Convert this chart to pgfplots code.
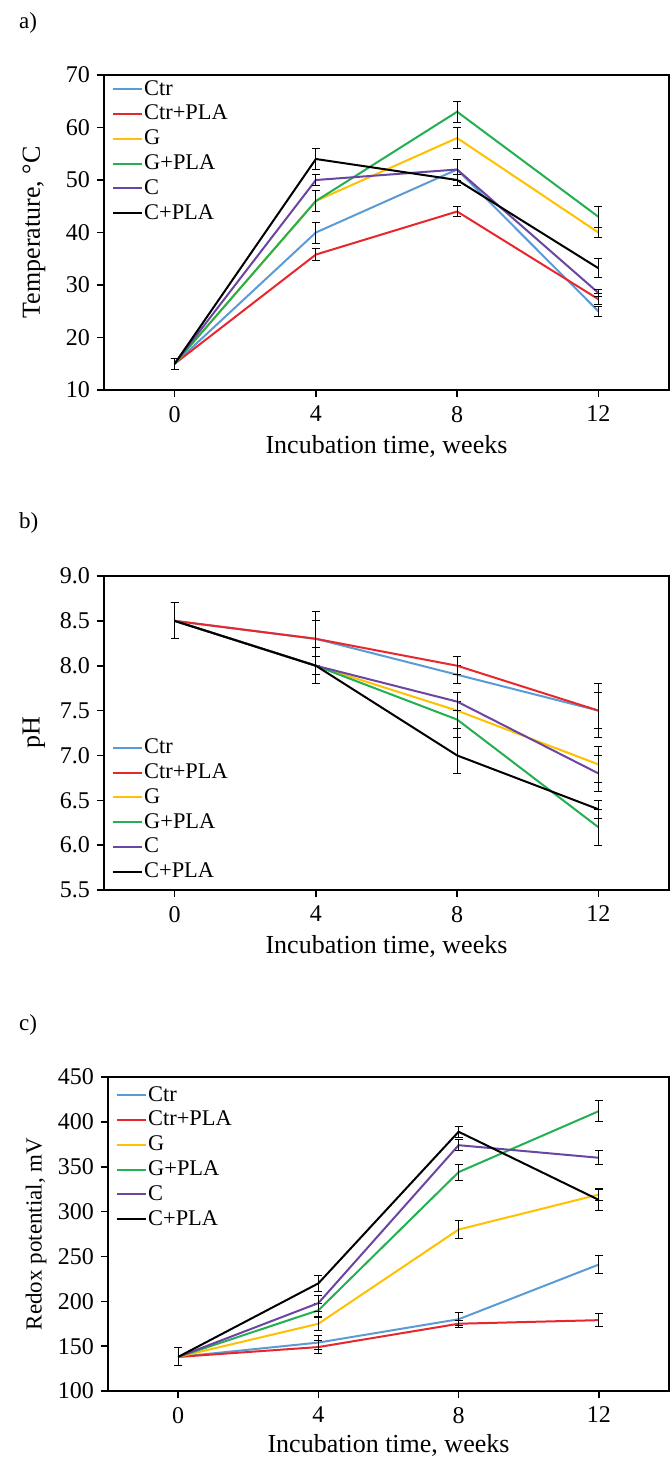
\documentclass[border=0pt]{standalone}
\usepackage{fontspec}
\setmainfont{Liberation Serif}
\usepackage{pgfplots}
\pgfplotsset{compat=1.18}
\definecolor{cCtr}{HTML}{5B9BD5}
\definecolor{cCtrP}{HTML}{E8272D}
\definecolor{cG}{HTML}{FFC000}
\definecolor{cGP}{HTML}{22B050}
\definecolor{cC}{HTML}{6A45A2}
\pgfplotsset{
  common/.style={
    scale only axis,
    anchor=south west,
    xmin=-2, xmax=14,
    xtick={0,4,8,12},
    axis line style={line width=0.8pt},
    tick style={line width=0.8pt, black},
    tick align=outside,
    major tick length=3.5pt,
    xtick pos=bottom, ytick pos=left,
    /pgf/number format/assume math mode=true,
    ticklabel style={font=\fontsize{12}{14}\selectfont},
    xticklabel style={yshift=-1pt},
    xlabel style={font=\fontsize{13}{15}\selectfont, at={(axis description cs:0.5,0)}, anchor=center, yshift=-28pt},
    ylabel style={font=\fontsize{13}{15}\selectfont, at={([xshift=-35pt]axis description cs:0,0.5)}, anchor=center},
    xlabel={Incubation time, weeks},
    legend cell align=left,
    legend image code/.code={\draw[#1, line width=1pt] (0pt,0pt) -- (14.5pt,0pt);},
    legend style={font=\fontsize{11.2}{12.5}\selectfont, draw=none, fill=none, inner sep=0pt, outer sep=0pt,
      nodes={inner sep=0.6pt}, row sep=2.3pt},
    every axis plot/.append style={line width=1pt, mark=none,
      error bars/y dir=both, error bars/y explicit,
      error bars/error bar style={black, line width=0.5pt},
      error bars/error mark options={rotate=90, mark size=2pt, black, line width=0.5pt}},
  }
}
\begin{document}
\begin{tikzpicture}
\useasboundingbox (0,0) rectangle (335pt,-728.5pt);
\node[anchor=west, font=\fontsize{11.5}{13}\selectfont] at (6pt,-11.5pt) {a)};
\node[anchor=west, font=\fontsize{11.5}{13}\selectfont] at (6pt,-261.5pt) {b)};
\node[anchor=west, font=\fontsize{11.5}{13}\selectfont] at (6pt,-512.5pt) {c)};
% ---------- a) temperature
\begin{axis}[common, at={(52pt,-195pt)}, width=282.5pt, height=157.5pt,
  ymin=10, ymax=70, ytick={10,20,...,70},
  ylabel={Temperature, °C},
  legend style={at={(0,1)}, anchor=north west, xshift=4pt, yshift=-2pt}]
\addplot[cCtr] coordinates {(0,15)+-(0,1) (4,40)+-(0,2) (8,52)+-(0,2) (12,25)+-(0,1)};
\addlegendentry{Ctr}
\addplot[cCtrP] coordinates {(0,15)+-(0,1) (4,35.8)+-(0,1.2) (8,44)+-(0,1) (12,27.3)+-(0,1)};
\addlegendentry{Ctr+PLA}
\addplot[cG] coordinates {(0,15)+-(0,1) (4,46)+-(0,2) (8,58)+-(0,2) (12,40)+-(0,1)};
\addlegendentry{G}
\addplot[cGP] coordinates {(0,15)+-(0,1) (4,46)+-(0,2) (8,63)+-(0,2) (12,43)+-(0,2)};
\addlegendentry{G+PLA}
\addplot[cC] coordinates {(0,15)+-(0,1) (4,50)+-(0,1) (8,52)+-(0,2) (12,28.5)+-(0,0.7)};
\addlegendentry{C}
\addplot[black] coordinates {(0,15)+-(0,1) (4,54)+-(0,2) (8,50)+-(0,1) (12,33.2)+-(0,1.8)};
\addlegendentry{C+PLA}
\end{axis}
% ---------- b) pH
\begin{axis}[common, at={(52pt,-445pt)}, width=282.5pt, height=157pt,
  ymin=5.5, ymax=9, ytick={5.5,6,...,9},
  yticklabel style={/pgf/number format/.cd, fixed, fixed zerofill, precision=1},
  ylabel={pH},
  legend style={at={(0,0)}, anchor=south west, xshift=4pt, yshift=4pt}]
\addplot[cCtr] coordinates {(0,8.5)+-(0,0.2) (4,8.3)+-(0,0.3) (8,7.9)+-(0,0.1) (12,7.5)+-(0,0.3)};
\addlegendentry{Ctr}
\addplot[cCtrP] coordinates {(0,8.5)+-(0,0.2) (4,8.3)+-(0,0.2) (8,8.0)+-(0,0.1) (12,7.5)+-(0,0.2)};
\addlegendentry{Ctr+PLA}
\addplot[cG] coordinates {(0,8.5)+-(0,0.2) (4,8.0)+-(0,0.1) (8,7.5)+-(0,0.2) (12,6.9)+-(0,0.2)};
\addlegendentry{G}
\addplot[cGP] coordinates {(0,8.5)+-(0,0.2) (4,8.0)+-(0,0.2) (8,7.4)+-(0,0.2) (12,6.2)+-(0,0.2)};
\addlegendentry{G+PLA}
\addplot[cC] coordinates {(0,8.5)+-(0,0.2) (4,8.0)+-(0,0.1) (8,7.6)+-(0,0.1) (12,6.8)+-(0,0.2)};
\addlegendentry{C}
\addplot[black] coordinates {(0,8.5)+-(0,0.2) (4,8.0)+-(0,0.2) (8,7.0)+-(0,0.2) (12,6.4)+-(0,0.1)};
\addlegendentry{C+PLA}
\end{axis}
% ---------- c) redox
\begin{axis}[common, at={(54pt,-695.5pt)}, width=280.5pt, height=157pt,
  ymin=100, ymax=450, ytick={100,150,...,450},
  ylabel={Redox potential, mV},
  ylabel style={font=\fontsize{11.5}{13}\selectfont, at={([xshift=-36pt]axis description cs:0,0.5)}},
  xlabel style={yshift=1pt},
  legend style={at={(0,1)}, anchor=north west, xshift=4pt, yshift=-4pt}]
\addplot[cCtr] coordinates {(0,138)+-(0,10) (4,154)+-(0,8) (8,180)+-(0,7) (12,241)+-(0,10)};
\addlegendentry{Ctr}
\addplot[cCtrP] coordinates {(0,138)+-(0,10) (4,149)+-(0,7) (8,175)+-(0,4) (12,179)+-(0,7)};
\addlegendentry{Ctr+PLA}
\addplot[cG] coordinates {(0,138)+-(0,10) (4,175)+-(0,8) (8,280)+-(0,10) (12,319)+-(0,7)};
\addlegendentry{G}
\addplot[cGP] coordinates {(0,138)+-(0,10) (4,190)+-(0,8) (8,344)+-(0,9) (12,412)+-(0,12)};
\addlegendentry{G+PLA}
\addplot[cC] coordinates {(0,138)+-(0,10) (4,198)+-(0,9) (8,374)+-(0,6) (12,360)+-(0,8)};
\addlegendentry{C}
\addplot[black] coordinates {(0,138)+-(0,10) (4,220)+-(0,9) (8,389)+-(0,6) (12,313)+-(0,12)};
\addlegendentry{C+PLA}
\end{axis}
\end{tikzpicture}
\end{document}
